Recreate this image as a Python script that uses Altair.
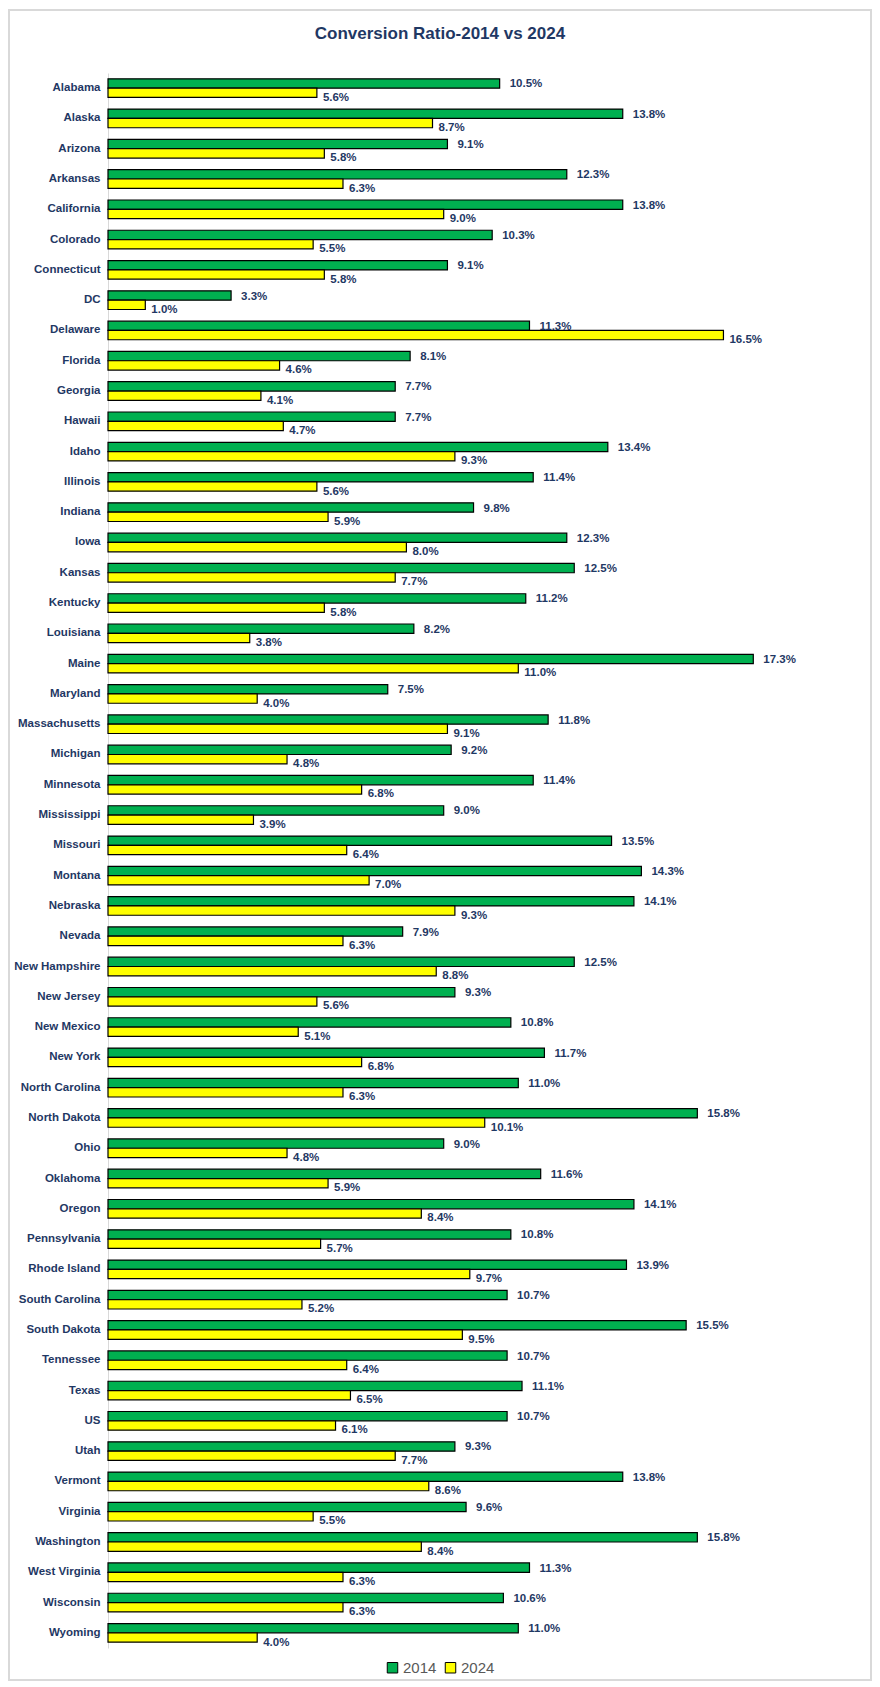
import altair as alt
import pandas as pd

states = ["Alabama", "Alaska", "Arizona", "Arkansas", "California", "Colorado", "Connecticut", "DC",
          "Delaware", "Florida", "Georgia", "Hawaii", "Idaho", "Illinois", "Indiana", "Iowa", "Kansas",
          "Kentucky", "Louisiana", "Maine", "Maryland", "Massachusetts", "Michigan", "Minnesota",
          "Mississippi", "Missouri", "Montana", "Nebraska", "Nevada", "New Hampshire", "New Jersey",
          "New Mexico", "New York", "North Carolina", "North Dakota", "Ohio", "Oklahoma", "Oregon",
          "Pennsylvania", "Rhode Island", "South Carolina", "South Dakota", "Tennessee", "Texas", "US",
          "Utah", "Vermont", "Virginia", "Washington", "West Virginia", "Wisconsin", "Wyoming"]
v2014 = [10.5, 13.8, 9.1, 12.3, 13.8, 10.3, 9.1, 3.3, 11.3, 8.1, 7.7, 7.7, 13.4, 11.4, 9.8, 12.3, 12.5,
         11.2, 8.2, 17.3, 7.5, 11.8, 9.2, 11.4, 9.0, 13.5, 14.3, 14.1, 7.9, 12.5, 9.3, 10.8, 11.7, 11.0,
         15.8, 9.0, 11.6, 14.1, 10.8, 13.9, 10.7, 15.5, 10.7, 11.1, 10.7, 9.3, 13.8, 9.6, 15.8, 11.3,
         10.6, 11.0]
v2024 = [5.6, 8.7, 5.8, 6.3, 9.0, 5.5, 5.8, 1.0, 16.5, 4.6, 4.1, 4.7, 9.3, 5.6, 5.9, 8.0, 7.7, 5.8, 3.8,
         11.0, 4.0, 9.1, 4.8, 6.8, 3.9, 6.4, 7.0, 9.3, 6.3, 8.8, 5.6, 5.1, 6.8, 6.3, 10.1, 4.8, 5.9, 8.4,
         5.7, 9.7, 5.2, 9.5, 6.4, 6.5, 6.1, 7.7, 8.6, 5.5, 8.4, 6.3, 6.3, 4.0]
series = ["2014", "2024"]
colors = ["#00B050", "#FFFF00"]

rows = []
for s, a, b in zip(states, v2014, v2024):
    rows.append({"state": s, "series": series[0], "value": a})
    rows.append({"state": s, "series": series[1], "value": b})
df = pd.DataFrame(rows)

W, H = 746, 1575
NAVY = "#1F3864"
FONT = "Liberation Sans, Arial, sans-serif"

base = alt.Chart(df).encode(
    y=alt.Y("state:N", sort=states, title=None,
            scale=alt.Scale(paddingInner=0.385, paddingOuter=0.1925),
            axis=alt.Axis(labelFont=FONT, labelFontSize=11.5, labelFontWeight="bold",
                          labelColor=NAVY, ticks=False, domainColor="#d9d9d9", domainWidth=1,
                          labelPadding=8, labelLimit=200)),
    yOffset=alt.YOffset("series:N", sort=series, scale=alt.Scale(paddingInner=0, paddingOuter=0)),
    x=alt.X("value:Q", scale=alt.Scale(domain=[0, 20]), axis=None),
)

bars = base.mark_bar(stroke="black", strokeWidth=1.2).encode(
    color=alt.Color("series:N",
                    scale=alt.Scale(domain=series, range=colors),
                    legend=alt.Legend(orient="none", legendX=277, legendY=H + 12,
                                      direction="horizontal", title=None, symbolType="square",
                                      symbolStrokeColor="black", symbolStrokeWidth=1,
                                      symbolSize=110, labelFont=FONT, labelFontSize=15,
                                      labelColor="#595959", columnPadding=6, labelOffset=3))
)

lab = base.transform_calculate(label="format(datum.value, '.1f') + '%'")
t1 = lab.transform_filter(alt.datum.series == "2014").mark_text(
    align="left", baseline="middle", dx=10, dy=1, font=FONT, fontSize=11.5,
    fontWeight="bold", color=NAVY).encode(text="label:N")
t2 = lab.transform_filter(alt.datum.series == "2024").mark_text(
    align="left", baseline="middle", dx=6, dy=5, font=FONT, fontSize=11.5,
    fontWeight="bold", color=NAVY).encode(text="label:N")

border = alt.Chart(pd.DataFrame({"a": [0]})).mark_rect(
    fill=None, stroke="#d9d9d9", strokeWidth=2).encode(
    x=alt.value(-99), x2=alt.value(W + 17), y=alt.value(-63), y2=alt.value(H + 32))

chart = alt.layer(border, bars, t1, t2).properties(
    width=W, height=H,
    title=alt.Title("Conversion Ratio-2014 vs 2024", font=FONT, fontSize=17,
                    fontWeight="bold", color=NAVY, anchor="middle", frame="bounds",
                    offset=0, dy=34),
    autosize=alt.AutoSizeParams(type="none"),
    padding={"left": 100, "top": 65, "right": 18, "bottom": 34},
    background="white",
).configure_view(stroke=None)

chart.save("out.html", embed_options={"renderer": "svg", "actions": False})
